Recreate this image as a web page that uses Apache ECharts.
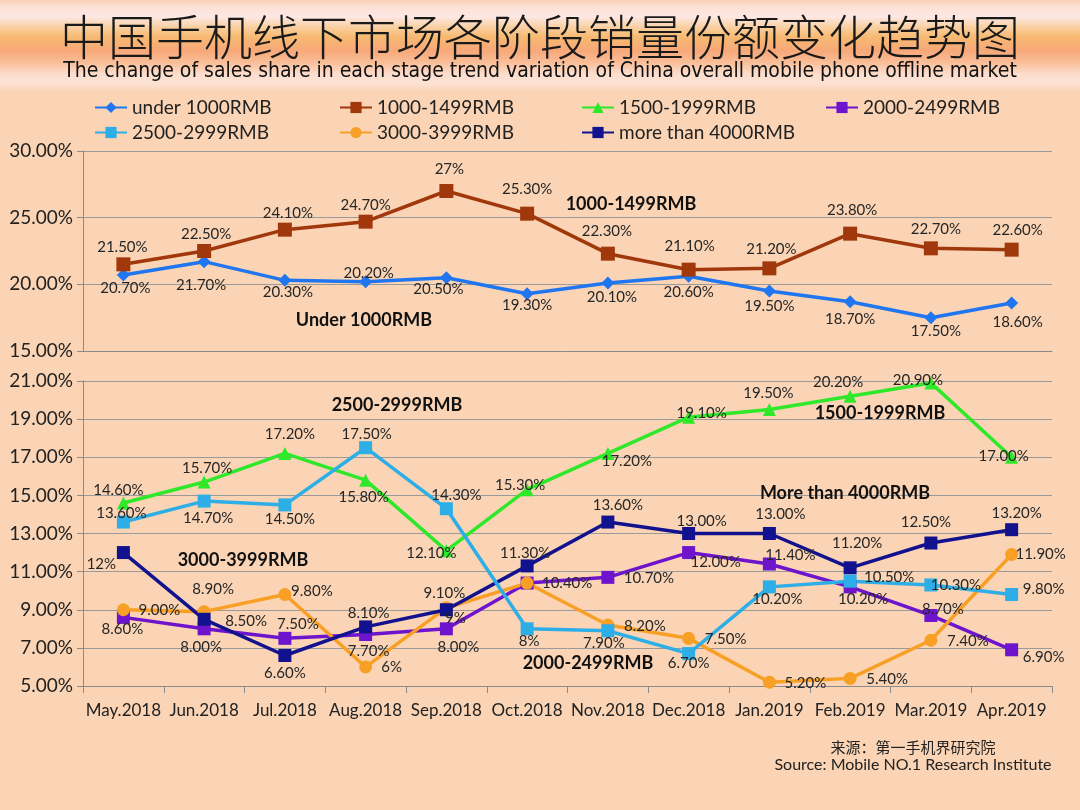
<!DOCTYPE html>
<html>
<head>
<meta charset="utf-8">
<script src="https://cdn.jsdelivr.net/npm/echarts@6/dist/echarts.min.js"></script>
<style>
html,body{margin:0;padding:0;background:#FAD4B4;}
#chart{width:1080px;height:810px;}
</style>
</head>
<body>
<div id="chart"></div>
<script>
// ---------- data ----------
const months = ['May.2018','Jun.2018','Jul.2018','Aug.2018','Sep.2018','Oct.2018','Nov.2018','Dec.2018','Jan.2019','Feb.2019','Mar.2019','Apr.2019'];
const under1000 = [20.7,21.7,20.3,20.2,20.5,19.3,20.1,20.6,19.5,18.7,17.5,18.6];
const r1000_1499 = [21.5,22.5,24.1,24.7,27,25.3,22.3,21.1,21.2,23.8,22.7,22.6];
const r1500_1999 = [14.6,15.7,17.2,15.8,12.1,15.3,17.2,19.1,19.5,20.2,20.9,17.0];
const r2000_2499 = [8.6,8.0,7.5,7.7,8.0,10.4,10.7,12.0,11.4,10.2,8.7,6.9];
const r2500_2999 = [13.6,14.7,14.5,17.5,14.3,8,7.9,6.7,10.2,10.5,10.3,9.8];
const r3000_3999 = [9.0,8.9,9.8,6,9.1,10.4,8.2,7.5,5.2,5.4,7.4,11.9];
const over4000 = [12,8.5,6.6,8.1,9,11.3,13.6,13.0,13.0,11.2,12.5,13.2];
const seriesNames = ['under 1000RMB','1000-1499RMB','1500-1999RMB','2000-2499RMB','2500-2999RMB','3000-3999RMB','more than 4000RMB'];
const topTicks = [15,30,5];     // min, max, interval
const bottomTicks = [5,21,2];
// labels shown without decimals (index lists)
const shortIdx = {
  r1000_1499:[4], over4000:[0,4], r3000_3999:[3], r2500_2999:[5]
};

// ---------- label placement (style) ----------
const offU1000 = [[2,13],[-3,23],[3,12],[3,-9],[-8,11],[0,11],[4,14],[0,16],[0,15],[0,17],[5,13],[6,19]];
const off1000 = [[-1,-17],[2,-17],[3,-17],[0,-17],[3,-22],[0,-25],[-1,-23],[1,-24],[2,-19],[2,-24],[5,-19],[6,-20]];
const off1500 = [[-5,-13],[3,-14],[5,-19],[-2,17],[-15,2],[-7,-5],[19,8],[13,-4],[-1,-16],[-12,-14],[-13,-3],[-8,-1]];
const off2000 = [[-1,12],[-3,18],[13,-14],[3,17],[12,18],[40,0],[41,1],[27,10],[21,-9],[13,12],[12,-6],[32,7]];
const off2500 = [[-2,-9],[4,17],[5,14],[1,-14],[10,-14],[2,12],[-4,12],[0,10],[8,12],[39,-4],[25,0],[32,-5]];
const off3000 = [[36,0],[9,-23],[27,-3],[26,0],[-2,-15],null,[37,1],[37,1],[36,1],[37,1],[37,1],[29,0]];
const off4000 = [[-22,12],[42,2],[0,18],[3,-14],[9,8],[-2,-13],[10,-17],[13,-12],[11,-19],[7,-25],[-5,-21],[5,-17]];

const FONT = 'Lato, "Open Sans", sans-serif';
const LABEL_COLOR = '#262626';

function mk(name, values, g, color, symbol, size, offsets, shorts) {
  shorts = shorts || [];
  return {
    name: name, type: 'line', xAxisIndex: g, yAxisIndex: g,
    data: values.map((v, i) => ({
      value: v,
      label: offsets[i] ? { show: true, offset: offsets[i] } : { show: false }
    })),
    symbol: symbol, symbolSize: size,
    itemStyle: { color: color },
    lineStyle: { color: color, width: 3.5 },
    label: {
      show: true, position: 'inside',
      formatter: p => shorts.indexOf(p.dataIndex) >= 0 ? Math.round(p.value) + '%' : p.value.toFixed(2) + '%',
      fontSize: 15, fontFamily: FONT, color: LABEL_COLOR
    },
    emphasis: { disabled: true },
    animation: false
  };
}

const colors = {
  u1000: '#1F76F0', r1000: '#A0380C', r1500: '#2FE82A', r2000: '#6E14CC',
  r2500: '#2EAEE6', r3000: '#F8A026', o4000: '#12128E'
};

const series = [
  mk(seriesNames[0], under1000, 0, colors.u1000, 'diamond', 13, offU1000),
  mk(seriesNames[1], r1000_1499, 0, colors.r1000, 'rect', 14, off1000, shortIdx.r1000_1499),
  mk(seriesNames[2], r1500_1999, 1, colors.r1500, 'triangle', 13, off1500),
  mk(seriesNames[3], r2000_2499, 1, colors.r2000, 'rect', 13, off2000),
  mk(seriesNames[5], r3000_3999, 1, colors.r3000, 'circle', 13, off3000, shortIdx.r3000_3999),
  mk(seriesNames[6], over4000, 1, colors.o4000, 'rect', 13, off4000, shortIdx.over4000),
  mk(seriesNames[4], r2500_2999, 1, colors.r2500, 'rect', 13, off2500, shortIdx.r2500_2999)
];

// legends: one per item, laid out like the reference (4 columns x 2 rows)
const legendPos = [[94,98],[339,98],[581,98],[825,98],[94,123],[339,123],[581,123]];
const legends = seriesNames.map((n, i) => ({
  data: [n], left: legendPos[i][0], top: legendPos[i][1], padding: 0,
  itemWidth: 32, itemHeight: 14, itemGap: 4,
  textStyle: { fontSize: 19, fontFamily: FONT, color: '#222', padding: [0,0,0,0] },
  selectedMode: false
}));

const GRID_COLOR = '#9A9A9A';
const AXIS_COLOR = '#8A8A8A';
const pct = v => v.toFixed(2) + '%';

function yAx(g, t) {
  return {
    type: 'value', gridIndex: g, min: t[0], max: t[1], interval: t[2],
    axisLine: { show: true, lineStyle: { color: AXIS_COLOR, width: 1 } },
    axisTick: { show: true, length: 6, lineStyle: { color: AXIS_COLOR } },
    splitLine: { show: true, lineStyle: { color: GRID_COLOR, width: 1 } },
    axisLabel: { formatter: pct, fontSize: 19, fontFamily: FONT, color: '#222', margin: 10 }
  };
}

const option = {
  backgroundColor: '#FAD4B4',
  animation: false,
  title: [
    { text: '中国手机线下市场各阶段销量份额变化趋势图', left: 'center', top: 8,
      textStyle: { fontSize: 48, fontWeight: 300, fontFamily: '"Noto Sans CJK SC", sans-serif', color: '#1a1a1a' } },
    { text: 'The change of sales share in each stage trend variation of China overall mobile phone offline market',
      left: 'center', top: 56,
      textStyle: { fontSize: 21, fontWeight: 'normal', fontFamily: '"Liberation Sans Narrow", "DejaVu Sans Condensed", sans-serif', color: '#111' } }
  ],
  legend: legends,
  grid: [
    { left: 83, right: 28, top: 151, height: 200, containLabel: false },
    { left: 83, right: 28, top: 381, height: 305, containLabel: false }
  ],
  xAxis: [
    { type: 'category', gridIndex: 0, data: months, boundaryGap: true,
      axisLine: { show: true, lineStyle: { color: AXIS_COLOR } }, axisTick: { show: false }, axisLabel: { show: false } },
    { type: 'category', gridIndex: 1, data: months, boundaryGap: true,
      axisLine: { show: true, lineStyle: { color: AXIS_COLOR } },
      axisTick: { show: true, length: 7, alignWithLabel: false, lineStyle: { color: AXIS_COLOR } },
      axisLabel: { fontSize: 17, fontFamily: FONT, color: '#222', margin: 16, interval: 0 } }
  ],
  yAxis: [ yAx(0, topTicks), yAx(1, bottomTicks) ],
  graphic: [
    { type: 'rect', z: -10, silent: true, shape: { x: 0, y: 0, width: 1080, height: 92 },
      style: { fill: { type: 'linear', x: 0, y: 0, x2: 0, y2: 1, colorStops: [
        { offset: 0, color: '#FAD0B2' }, { offset: 0.07, color: '#FCE0D6' }, { offset: 0.18, color: '#FDE8E4' },
        { offset: 0.3, color: '#F9CFA0' }, { offset: 0.4, color: '#F7BA72' }, { offset: 0.55, color: '#F7A878' },
        { offset: 0.68, color: '#F9BE98' }, { offset: 0.8, color: '#FCDCCB' }, { offset: 0.9, color: '#FDE3D6' },
        { offset: 1, color: '#FAD4B4' } ] } } },
    ...[
      ['1000-1499RMB', 631, 204], ['Under 1000RMB', 364, 320], ['2500-2999RMB', 397, 405],
      ['3000-3999RMB', 243, 560], ['1500-1999RMB', 880, 413], ['More than 4000RMB', 845, 493],
      ['2000-2499RMB', 588, 663]
    ].map(a => ({ type: 'text', z: 100, silent: true,
      style: { text: a[0], x: a[1], y: a[2], textAlign: 'center', textVerticalAlign: 'middle',
        font: 'bold 18px ' + FONT, fill: '#111' } })),
    { type: 'text', silent: true, style: { text: '来源：第一手机界研究院', x: 913, y: 747, textAlign: 'center', textVerticalAlign: 'middle',
      font: '15px "Noto Sans CJK SC", sans-serif', fill: '#222' } },
    { type: 'text', silent: true, style: { text: 'Source: Mobile NO.1 Research Institute', x: 913, y: 765, textAlign: 'center', textVerticalAlign: 'middle',
      font: '16px ' + FONT, fill: '#222' } }
  ],
  series: series
};

const chart = echarts.init(document.getElementById('chart'), null, { renderer: 'canvas' });
chart.setOption(option);
</script>
</body>
</html>
